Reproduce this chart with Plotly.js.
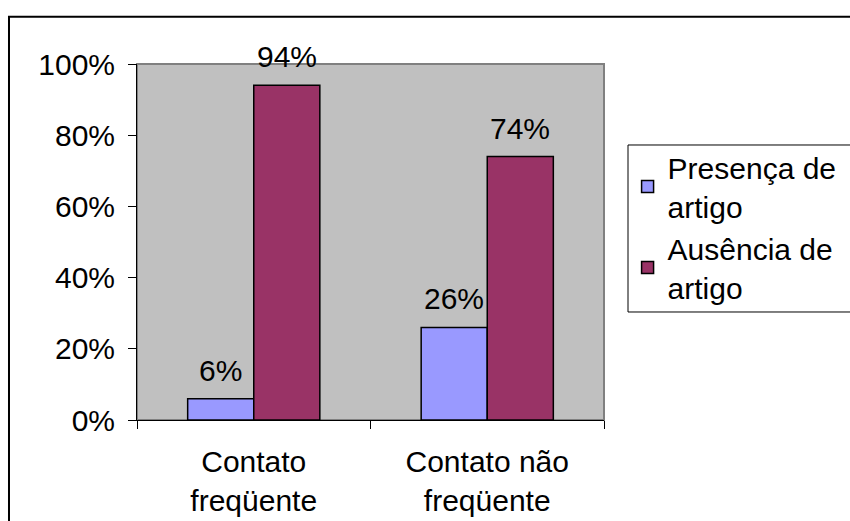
<!DOCTYPE html>
<html>
<head>
<meta charset="utf-8">
<script src="https://cdn.plot.ly/plotly-3.0.1.min.js"></script>
<style>
  html, body { margin: 0; padding: 0; background: #ffffff; }
  #chart { width: 850px; height: 521px; }
</style>
</head>
<body>
<div id="chart"></div>
<script>
// Categories and percentages per group
const categories = ['Contato<br>freqüente', 'Contato não<br>freqüente'];
const presenca = [6, 26];
const ausencia = [94, 74];
const seriesNames = ['Presença de<br>artigo', 'Ausência de<br>artigo'];
const yTicks = [0, 20, 40, 60, 80, 100];

const FONT = '"Liberation Sans", Arial, sans-serif';
const FS = 30;

const traces = [
  {
    type: 'bar',
    name: seriesNames[0],
    x: categories,
    y: presenca,
    marker: { color: '#9999ff', line: { color: '#000000', width: 1.5 } },
    hoverinfo: 'skip'
  },
  {
    type: 'bar',
    name: seriesNames[1],
    x: categories,
    y: ausencia,
    marker: { color: '#993366', line: { color: '#000000', width: 1.5 } },
    hoverinfo: 'skip'
  }
];

// Value labels above each bar, offset to the bar's slot in its group
const barShift = 33;
const annotations = [];
[presenca, ausencia].forEach((vals, s) => {
  vals.forEach((v, i) => {
    annotations.push({
      x: categories[i], y: v, xref: 'x', yref: 'y',
      xshift: s === 0 ? -barShift : barShift,
      yshift: 10,
      yanchor: 'bottom', xanchor: 'center',
      text: v + '%', showarrow: false,
      font: { family: FONT, size: FS, color: '#000000' }
    });
  });
});

const layout = {
  width: 850,
  height: 521,
  margin: { l: 137, r: 246, t: 64, b: 101, autoexpand: false },
  paper_bgcolor: '#ffffff',
  plot_bgcolor: '#c0c0c0',
  font: { family: FONT, size: FS, color: '#000000' },
  barmode: 'group',
  bargap: 0.434,
  bargroupgap: 0,
  showlegend: true,
  legend: {
    x: 1.0505, xanchor: 'left',
    y: 0.784, yanchor: 'top',
    bgcolor: 'rgba(0,0,0,0)',
    borderwidth: 0,
    font: { family: FONT, size: FS, color: '#000000' }
  },
  xaxis: {
    type: 'category',
    tickson: 'boundaries',
    ticks: 'outside', ticklen: 8, tickcolor: '#000000', tickwidth: 1,
    ticklabelstandoff: 15,
    showline: true, linecolor: '#000000', linewidth: 1,
    showgrid: false, zeroline: false,
    tickfont: { family: FONT, size: FS, color: '#000000' }
  },
  yaxis: {
    range: [0, 100],
    tickvals: yTicks,
    ticktext: yTicks.map(t => t + '%'),
    ticks: 'outside', ticklen: 8, tickcolor: '#000000', tickwidth: 1,
    ticklabelstandoff: 7,
    showline: true, linecolor: '#000000', linewidth: 1,
    showgrid: false, zeroline: false,
    tickfont: { family: FONT, size: FS, color: '#000000' }
  },
  shapes: [
    // plot area frame
    {
      type: 'rect', xref: 'x domain', yref: 'y domain',
      x0: 0, x1: 1, y0: 0, y1: 1,
      line: { color: '#808080', width: 2 },
      fillcolor: 'rgba(0,0,0,0)', layer: 'below'
    },
    // legend frame, running past the right edge of the chart area
    {
      type: 'rect', xref: 'paper', yref: 'paper',
      x0: 1.0514, x1: 1.6, y0: 0.3034, y1: 0.7725,
      line: { color: '#000000', width: 1 },
      fillcolor: 'rgba(0,0,0,0)', layer: 'above'
    },
    // chart area frame
    {
      type: 'rect', xref: 'paper', yref: 'paper',
      x0: -0.2741, x1: 1.6, y0: -0.5, y1: 1.1324,
      line: { color: '#000000', width: 2 },
      fillcolor: 'rgba(0,0,0,0)', layer: 'above'
    }
  ],
  annotations: annotations
};

Plotly.newPlot('chart', traces, layout, { displayModeBar: false, staticPlot: true });
</script>
</body>
</html>
